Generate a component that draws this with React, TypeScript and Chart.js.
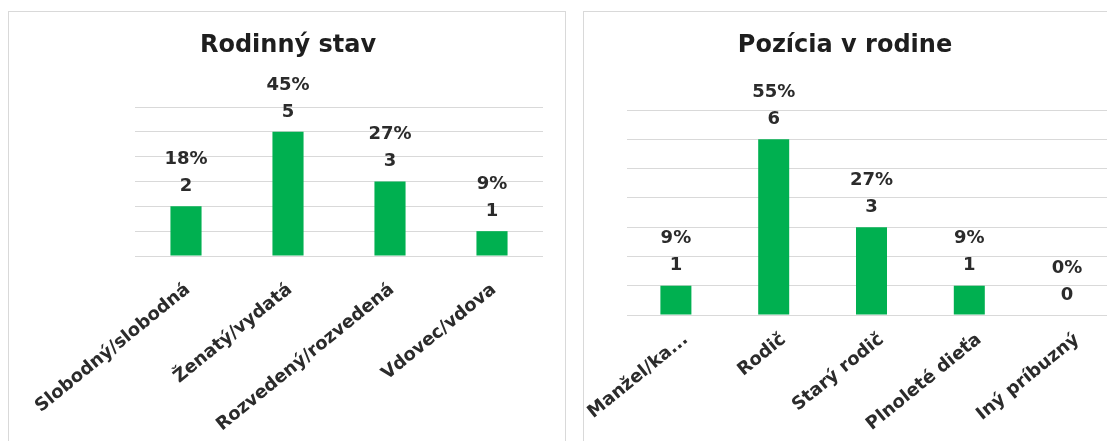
import React, { useEffect, useRef } from "react";
import { Chart, registerables } from "chart.js";

Chart.register(...registerables);

// ---- data ----
const leftTitle = "Rodinný stav";
const leftCategories = ["Slobodný/slobodná", "Ženatý/vydatá", "Rozvedený/rozvedená", "Vdovec/vdova"];
const leftValues = [2, 5, 3, 1];
const leftAxisMax = 6;

const rightTitle = "Pozícia v rodine";
const rightCategories = ["Manžel/ka...", "Rodič", "Starý rodič", "Plnoleté dieťa", "Iný príbuzný"];
const rightValues = [1, 6, 3, 1, 0];
const rightAxisMax = 7;

// ---- styles ----
const GREEN = "#00B050";
const GRID = "#d9d9d9";
const TEXT = "#2b2b2b";
const TITLE = "#1e1e1e";
const FONT = '"DejaVu Sans", sans-serif';

const valueLabels = {
  id: "valueLabels",
  afterDatasetsDraw(chart: any) {
    const ctx = chart.ctx;
    const vals = chart.data.datasets[0].data as number[];
    const total = vals.reduce((a: number, b: number) => a + b, 0);
    const meta = chart.getDatasetMeta(0);
    ctx.save();
    ctx.font = `bold 18px ${FONT}`;
    ctx.fillStyle = TEXT;
    ctx.textAlign = "center";
    ctx.textBaseline = "middle";
    meta.data.forEach((bar: any, i: number) => {
      const v = vals[i];
      const pct = Math.round((v / total) * 100) + "%";
      ctx.fillText(String(v), bar.x, bar.y - 20);
      ctx.fillText(pct, bar.x, bar.y - 47);
    });
    ctx.restore();
  },
};

type P = {
  title: string;
  categories: string[];
  values: number[];
  max: number;
  catPct: number;
  leftW: number;
  rightW: number;
  xHeight: number;
  tickPad: number;
  tickShift: number;
  titleTop: number;
  titleBottom: number;
};

function BarPanel(p: P & { width: number; height: number }) {
  const ref = useRef<HTMLCanvasElement | null>(null);
  useEffect(() => {
    if (!ref.current) return;
    const chart = new Chart(ref.current, {
      type: "bar",
      data: {
        labels: p.categories,
        datasets: [
          {
            data: p.values,
            backgroundColor: GREEN,
            barPercentage: 1,
            categoryPercentage: p.catPct,
          },
        ],
      },
      options: {
        animation: false,
        responsive: false,
        maintainAspectRatio: false,
        layout: { padding: 0 },
        plugins: {
          legend: { display: false },
          tooltip: { enabled: false },
          title: {
            display: true,
            text: p.title,
            color: TITLE,
            font: { family: FONT, size: 24, weight: "bold" },
            padding: { top: p.titleTop, bottom: p.titleBottom },
          },
        },
        scales: {
          x: {
            grid: { display: false, drawTicks: false },
            border: { display: false },
            ticks: {
              autoSkip: false,
              maxRotation: 39,
              minRotation: 39,
              padding: p.tickPad,
              labelOffset: p.tickShift,
              color: TEXT,
              font: { family: FONT, size: 18, weight: "bold" },
            },
            afterFit: (s: any) => {
              s.height = p.xHeight;
              s.paddingLeft = 0;
              s.paddingRight = 0;
            },
          },
          y: {
            min: 0,
            max: p.max,
            ticks: { display: false, stepSize: 1 },
            grid: { color: GRID, lineWidth: 1, drawTicks: false },
            border: { display: false },
            afterFit: (s: any) => {
              s.width = p.leftW;
            },
          },
          y2: {
            position: "right",
            grid: { display: false, drawTicks: false },
            ticks: { display: false },
            border: { display: false },
            afterFit: (s: any) => {
              s.width = p.rightW;
            },
          },
        },
      } as any,
      plugins: [valueLabels],
    });
    return () => chart.destroy();
  }, []);
  return <canvas ref={ref} width={p.width} height={p.height} style={{ display: "block" }} />;
}

export default function App() {
  return (
    <div
      style={{
        position: "fixed",
        left: 0,
        top: 0,
        width: 1107,
        height: 441,
        overflow: "hidden",
        background: "#fff",
      }}
    >
      <div
        style={{
          position: "absolute",
          left: 8,
          top: 11,
          width: 558,
          height: 460,
          border: `1px solid ${GRID}`,
          boxSizing: "border-box",
        }}
      />
      <div
        style={{
          position: "absolute",
          left: 583,
          top: 11,
          width: 600,
          height: 460,
          border: `1px solid ${GRID}`,
          boxSizing: "border-box",
        }}
      />
      <div style={{ position: "absolute", left: 8, top: 11 }}>
        <BarPanel
          width={560}
          height={430}
          title={leftTitle}
          categories={leftCategories}
          values={leftValues}
          max={leftAxisMax}
          catPct={0.305}
          leftW={127}
          rightW={25}
          xHeight={185}
          tickPad={23}
          tickShift={2}
          titleTop={20.6}
          titleBottom={46.6}
        />
      </div>
      <div style={{ position: "absolute", left: 570, top: 11 }}>
        <BarPanel
          width={550}
          height={430}
          title={rightTitle}
          categories={rightCategories}
          values={rightValues}
          max={rightAxisMax}
          catPct={0.317}
          leftW={57}
          rightW={4}
          xHeight={126}
          tickPad={14}
          tickShift={10}
          titleTop={20.6}
          titleBottom={49.6}
        />
      </div>
    </div>
  );
}
